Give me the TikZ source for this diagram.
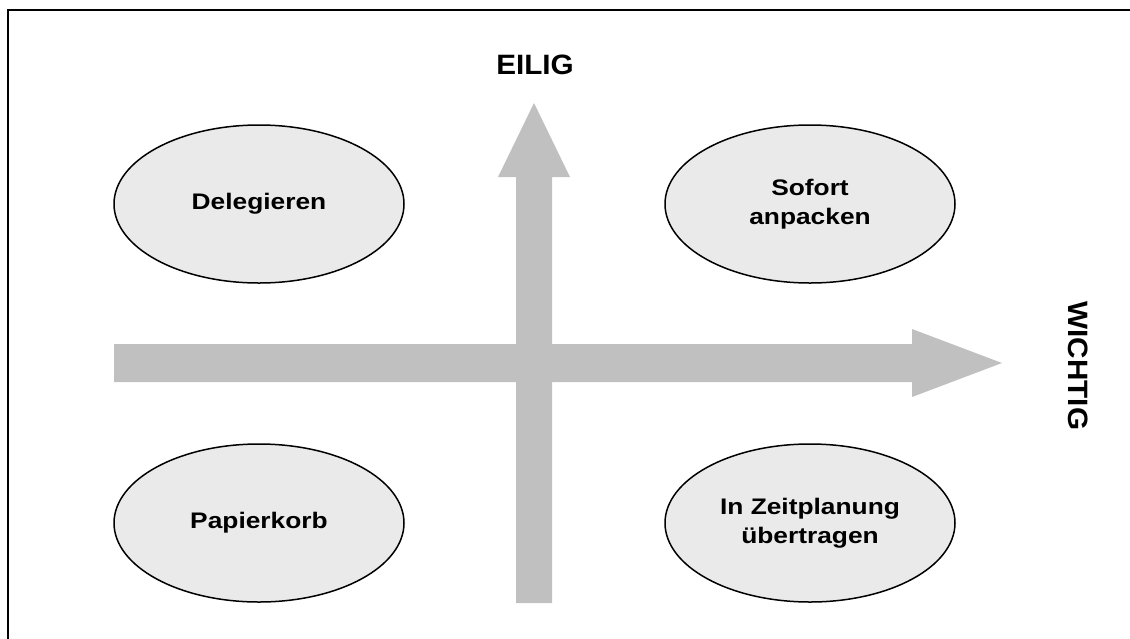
\documentclass[tikz,border=0pt]{standalone}
\usepackage{fontspec}
\setmainfont{Liberation Sans}
\newfontfamily\elfont[FakeStretch=1.17]{Liberation Sans}
\newfontfamily\axfont[FakeStretch=1.06]{Liberation Sans}
\usetikzlibrary{shapes.geometric}
\definecolor{arrowgray}{HTML}{C0C0C0}
\definecolor{ellfill}{HTML}{EAEAEA}
\begin{document}
\begin{tikzpicture}[x=1pt,y=-1pt,
  quad/.style={ellipse, draw=black, line width=1.5pt, fill=ellfill,
    minimum width=290pt, minimum height=158pt, inner sep=0pt, align=center,
    font=\elfont\bfseries\fontsize{22.5}{29.5}\selectfont},
  axislabel/.style={font=\axfont\bfseries\fontsize{28}{32}\selectfont, inner sep=0pt},
  bigarrow/.style={fill=arrowgray, draw=none}]
\useasboundingbox (0,0) rectangle (1130,638);
\begin{scope}
\clip (0,0) rectangle (1130,638);
\draw[line width=2pt] (7.5,10) rectangle (1140,648);
\end{scope}
\fill[bigarrow] (516,603) -- (516,177) -- (498,177) -- (534,103) -- (570,177) -- (552,177) -- (552,603) -- cycle;
\fill[bigarrow] (114,344) -- (912,344) -- (912,329) -- (1002,363) -- (912,397) -- (912,382) -- (114,382) -- cycle;
\node[quad] (del) at (259,204) {Delegieren};
\node[quad] (sofort) at (810,204) {Sofort\\anpacken};
\node[quad] (papier) at (259,523) {Papierkorb};
\node[quad] (zeit) at (810,523) {In Zeitplanung\\übertragen};
\node[axislabel] (eilig) at (535,65) {EILIG};
\node[axislabel, rotate=-90] (wichtig) at (1078,366) {WICHTIG};
\end{tikzpicture}
\end{document}
